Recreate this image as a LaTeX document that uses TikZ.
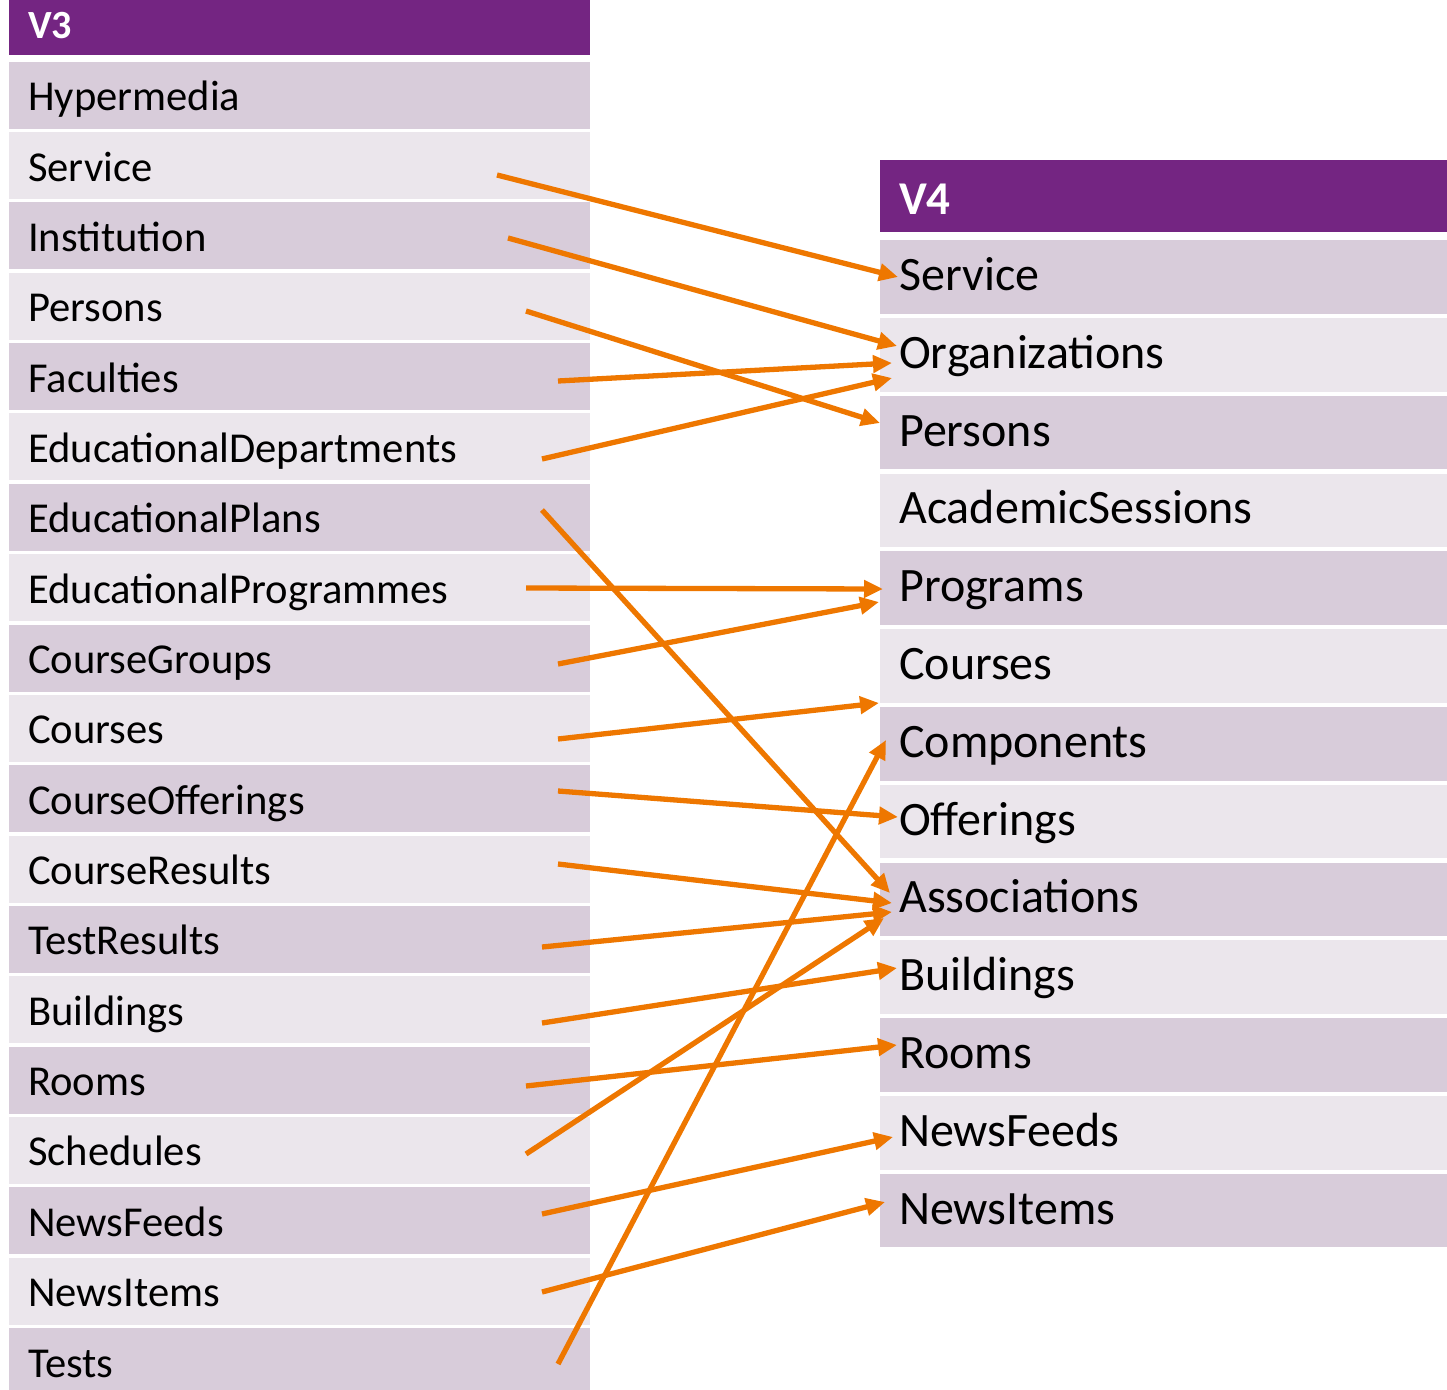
\documentclass[tikz,border=0pt]{standalone}
\usepackage{fontspec}
\setmainfont{Carlito}
\usetikzlibrary{arrows.meta}
\definecolor{hdr}{HTML}{742582}
\definecolor{rowdark}{HTML}{D8CCDA}
\definecolor{rowlight}{HTML}{EBE6EC}
\definecolor{arr}{HTML}{EE7700}
\tikzset{
  hdrbox/.style={fill=hdr, draw=none, anchor=north west, inner sep=0pt},
  leftrow/.style={draw=none, anchor=north west, inner sep=0pt, minimum width=581pt, minimum height=67pt},
  rightrow/.style={draw=none, anchor=north west, inner sep=0pt, minimum width=567pt, minimum height=73.5pt},
  llbl/.style={anchor=base west, inner sep=0pt, font=\fontsize{42.6}{50}\selectfont},
  rlbl/.style={anchor=base west, inner sep=0pt, font=\fontsize{48}{56}\selectfont},
  hlbl/.style={anchor=base west, inner sep=0pt, text=white},
  conn/.style={draw=arr, line width=5.3pt, -{Triangle[length=19pt,width=17pt]}},
}
\begin{document}
\begin{tikzpicture}[x=1pt,y=-1pt]
\useasboundingbox (0,0) rectangle (1447,1389);
\begin{scope}
\clip (0,0) rectangle (1447,1389);
% V3 header
\node[hdrbox, minimum width=581pt, minimum height=55pt] (v3) at (9,0) {};
\node[hlbl, font=\fontsize{40}{48}\selectfont\bfseries] (v3t) at (28,38) {V3};
% V3 rows
\foreach \nm [count=\i from 0] in {Hypermedia,Service,Institution,Persons,Faculties,EducationalDepartments,EducationalPlans,EducationalProgrammes,CourseGroups,Courses,CourseOfferings,CourseResults,TestResults,Buildings,Rooms,Schedules,NewsFeeds,NewsItems,Tests}{
  \pgfmathsetmacro\tp{61.5+70.35*\i}
  \pgfmathtruncatemacro\od{mod(\i,2)}
  \ifnum\od=0 \def\cl{rowdark}\else\def\cl{rowlight}\fi
  \node[leftrow, fill=\cl] (l\i) at (9,\tp) {};
  \node[llbl] (lt\i) at ([xshift=19pt,yshift=-15.5pt]l\i.west) {\nm};
}
% V4 header
\node[hdrbox, minimum width=567pt, minimum height=72pt] (v4) at (880,160) {};
\node[hlbl, font=\fontsize{47}{56}\selectfont\bfseries] (v4t) at (899,214) {V4};
% V4 rows
\foreach \nm [count=\j from 0] in {Service,Organizations,Persons,AcademicSessions,Programs,Courses,Components,Offerings,Associations,Buildings,Rooms,NewsFeeds,NewsItems}{
  \pgfmathsetmacro\tp{240+77.8*\j}
  \pgfmathtruncatemacro\od{mod(\j,2)}
  \ifnum\od=0 \def\cl{rowdark}\else\def\cl{rowlight}\fi
  \node[rightrow, fill=\cl] (r\j) at (880,\tp) {};
  \node[rlbl] (rt\j) at ([xshift=19pt,yshift=-13.5pt]r\j.west) {\nm};
}
\end{scope}
% connector ends
\coordinate (sService) at (497,175);
\coordinate (sInstitution) at (508,238);
\coordinate (sPersons) at (526,311);
\coordinate (sFaculties) at (558,381);
\coordinate (sEdDept) at (542,459);
\coordinate (sEdPlans) at (542,510);
\coordinate (sEdProg) at (526,588);
\coordinate (sCourseGroups) at (558,664);
\coordinate (sCourses) at (558,739);
\coordinate (sCourseOff) at (558,791);
\coordinate (sCourseRes) at (558,864);
\coordinate (sTestRes) at (542,947);
\coordinate (sBuildings) at (542,1023);
\coordinate (sRooms) at (526,1086);
\coordinate (sSchedules) at (526,1154);
\coordinate (sNewsFeeds) at (542,1214);
\coordinate (sNewsItems) at (542,1292);
\coordinate (sTests) at (558,1364);
\coordinate (tService) at (898,277);
\coordinate (tOrgA) at (897,346);
\coordinate (tPersons) at (880,423);
\coordinate (tOrgB) at (892,363);
\coordinate (tOrgC) at (892,378);
\coordinate (tAssocA) at (890,893);
\coordinate (tProgA) at (883,589);
\coordinate (tProgB) at (879,602);
\coordinate (tCourses) at (879,703);
\coordinate (tOfferings) at (898,817);
\coordinate (tAssocB) at (892,903);
\coordinate (tAssocC) at (892,912);
\coordinate (tBuildings) at (897,968);
\coordinate (tRooms) at (897,1045);
\coordinate (tAssocD) at (884,918);
\coordinate (tNewsFeeds) at (893,1137);
\coordinate (tNewsItems) at (885,1202);
\coordinate (tComponents) at (886,740);
% connectors
\draw[conn] (sService) -- (tService);
\draw[conn] (sInstitution) -- (tOrgA);
\draw[conn] (sPersons) -- (tPersons);
\draw[conn] (sFaculties) -- (tOrgB);
\draw[conn] (sEdDept) -- (tOrgC);
\draw[conn] (sEdPlans) -- (tAssocA);
\draw[conn] (sEdProg) -- (tProgA);
\draw[conn] (sCourseGroups) -- (tProgB);
\draw[conn] (sCourses) -- (tCourses);
\draw[conn] (sCourseOff) -- (tOfferings);
\draw[conn] (sCourseRes) -- (tAssocB);
\draw[conn] (sTestRes) -- (tAssocC);
\draw[conn] (sBuildings) -- (tBuildings);
\draw[conn] (sRooms) -- (tRooms);
\draw[conn] (sSchedules) -- (tAssocD);
\draw[conn] (sNewsFeeds) -- (tNewsFeeds);
\draw[conn] (sNewsItems) -- (tNewsItems);
\draw[conn] (sTests) -- (tComponents);
\end{tikzpicture}
\end{document}
